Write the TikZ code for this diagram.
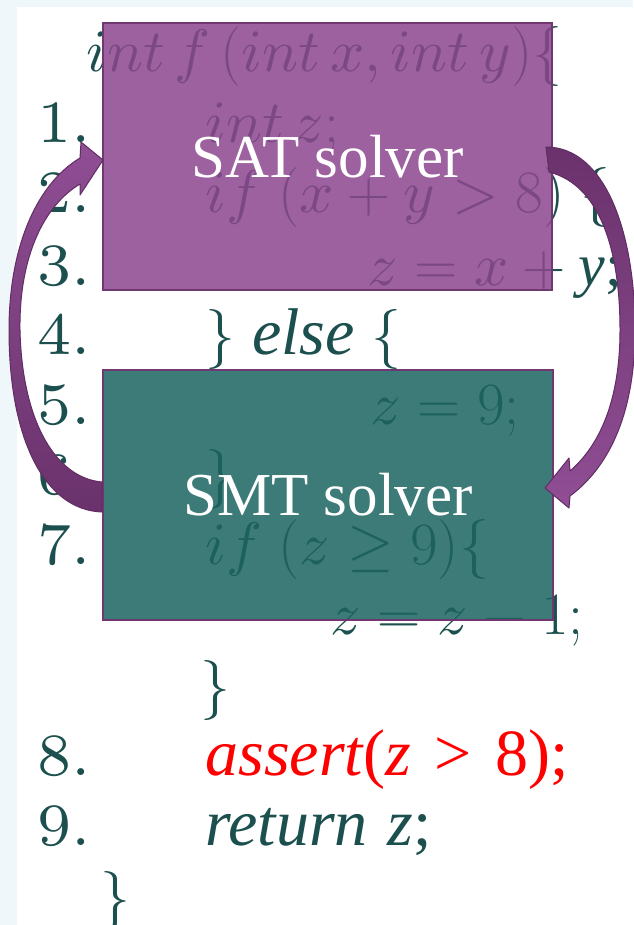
\RequirePackage{fix-cm}
\documentclass[tikz,border=0pt]{standalone}
\usepackage{fontspec}
\newfontfamily\cambria{Liberation Serif}
\newfontfamily\timesf{Liberation Serif}
\newfontfamily\numfont{lmroman7-regular.otf}
\DeclareFontShape{OML}{cmm}{m}{it}{<->s*[1]cmmi10}{}
\usetikzlibrary{calc}
\definecolor{codeteal}{RGB}{28,80,78}
\definecolor{bgblue}{RGB}{239,247,250}
\definecolor{satfill}{RGB}{140,70,143}
\definecolor{smtfill}{RGB}{28,100,97}
\definecolor{boxedge}{RGB}{112,56,112}
\definecolor{arrowlight}{RGB}{144,78,148}
\definecolor{arrowdark}{RGB}{106,50,108}
\definecolor{arrowedge}{RGB}{98,44,100}
\begin{document}
\begin{tikzpicture}[x=0.5pt,y=-0.5pt,
  code/.style={anchor=base west, inner sep=0pt, text=codeteal, font=\fontsize{30}{36}\selectfont},
  num/.style={anchor=base west, inner sep=0pt, text=codeteal, font=\numfont\fontsize{30}{36}\selectfont},
  cmb/.style={font=\cambria\fontsize{33}{40}\selectfont},
  solverbox/.style={draw=boxedge, line width=1pt, fill opacity=0.85, text opacity=1,
    text=white, font=\timesf\fontsize{30.5}{36}\selectfont, inner sep=0pt},
  blockarrow/.style={draw=arrowedge, line width=0.5pt, line join=round}]
\useasboundingbox (0,0) rectangle (633,925);
\fill[bgblue] (0,0) rectangle (633,925);
\fill[white] (17,7) rectangle (633,925);

% line numbers
\node[num] (n1) at (37,143) {1.};
\node[num] (n2) at (37,213) {2.};
\node[num] (n3) at (37,285) {3.};
\node[num] (n4) at (37,354) {4.};
\node[num] (n5) at (37,424) {5.};
\node[num] (n6) at (37,494) {6.};
\node[num] (n7) at (37,564) {7.};
\node[num] (n8) at (37,775) {8.};
\node[num] (n9) at (37,845) {9.};

% code
\node[code] (c0) at (86,72) {$int\,f\,(int\,x, int\,y)\{$};
\node[code] (c1) at (205,143) {$int\,z;$};
\node[code] (c2) at (205,213) {$if\;(x+y>8)\;\{$};
\node[code] (c3) at (367,285) {$z=x+{}${\cambria\fontsize{30}{36}\selectfont\itshape y\upshape;}};
\node[code] (c4) at (205,354) {$\}$\;{\cambria\fontsize{33}{40}\selectfont\itshape else}\;$\{$};
\node[code] (c5) at (370,424) {$z=9;$};
\node[code] (c6) at (205,494) {$\}$};
\node[code] (c7) at (205,564) {$if\;(z\geq 9)\{$};
\node[code] (c7b) at (330,634) {$z=z-1;$};
\node[code] (c7c) at (200,705) {$\}$};
\node[code, text=red, cmb] (c8) at (205,775) {\itshape assert\upshape(\itshape z\upshape\hspace{0.36em}>\hspace{0.36em}8);};
\node[code, cmb] (c9) at (205,845) {\itshape return\hspace{0.3em}z\upshape;};
\node[code] (c10) at (100,916) {$\}$};

% solver boxes
\node[solverbox, fill=satfill, minimum width=224.5pt, minimum height=133.5pt] (sat) at (327.5,156.5) {SAT solver};
\node[solverbox, fill=smtfill, minimum width=225pt, minimum height=125pt] (smt) at (328,495) {SMT solver};

% left arrow: SMT -> SAT
\coordinate (la1) at ($(smt.west)+(0,-13)$);
\coordinate (la2) at ($(smt.west)+(0,17)$);
\coordinate (lt) at ($(sat.west)+(1,3.5)$);
\shade[blockarrow, top color=arrowlight, bottom color=arrowdark]
  (la1) .. controls (55,478) and (22,420) .. (20,330)
  .. controls (19,255) and (45,205) .. (80,184)
  -- (80,195) -- (lt) -- (81,142) -- (80,158)
  .. controls (35,185) and (9,250) .. (9,330)
  .. controls (9,440) and (45,510) .. (la2) -- cycle;

% right arrow: SAT -> SMT
\coordinate (ra1) at ($(sat.east)+(-7,-9.5)$);
\coordinate (ra2) at ($(sat.east)+(-4,15.5)$);
\coordinate (rt) at ($(smt.east)+(-9,-7)$);
\shade[blockarrow, top color=arrowdark, bottom color=arrowlight]
  (ra1) .. controls (605,147) and (635,232) .. (635,330)
  .. controls (635,420) and (605,470) .. (570,496)
  -- (569,508) -- (rt) -- (569,458) -- (570,471)
  .. controls (600,445) and (620,400) .. (620,330)
  .. controls (620,250) and (600,185) .. (ra2) -- cycle;
\end{tikzpicture}
\end{document}
